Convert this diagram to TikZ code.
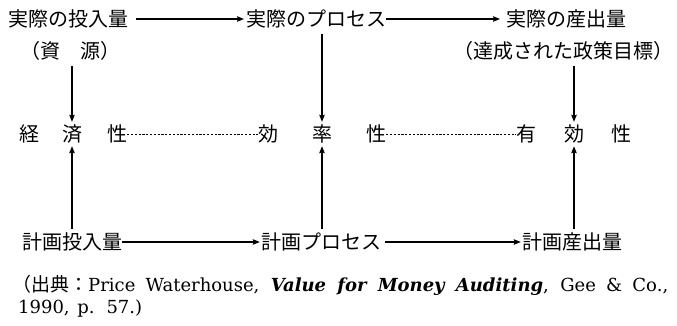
\documentclass[tikz,border=0pt]{standalone}
\usepackage{fontspec}
\setmainfont{DejaVu Serif}
\newfontfamily\jp{Noto Sans CJK JP}
\usetikzlibrary{arrows.meta}
\begin{document}
\begin{tikzpicture}[x=1pt,y=-1pt,
  jt/.style={font=\jp\fontsize{20}{20}\selectfont, inner sep=0pt, text height=16.6pt, text depth=1.4pt},
  arr/.style={line width=1.2pt, -{Stealth[length=7pt,width=5.5pt,inset=1pt]}},
  dsh/.style={line width=0.7pt, dash pattern=on 2.2pt off 1.6pt},
  captxt/.style={font=\fontsize{18}{18}\selectfont, inner sep=0pt, anchor=west}]
\useasboundingbox (0,0) rectangle (677,325);
% row 1
\node[jt, anchor=west] (a1) at (8,19) {実際の投入量};
\node[jt, anchor=west] (a2) at (246,19) {実際のプロセス};
\node[jt, anchor=west] (a3) at (506,19) {実際の産出量};
\node[jt] (p1) at (70,51) {（資\hspace{1em}源）};
\node[jt] (p3) at (563,51) {（達成された政策目標）};
% row 2
\node[jt] (e1) at (29,134) {経};
\node[jt] (e2) at (72,134) {済};
\node[jt] (e3) at (117,134) {性};
\node[jt] (f1) at (268,134) {効};
\node[jt] (f2) at (322,134) {率};
\node[jt] (f3) at (376,134) {性};
\node[jt] (g1) at (526,134) {有};
\node[jt] (g2) at (574,134) {効};
\node[jt] (g3) at (621,134) {性};
% row 3
\node[jt] (b1) at (72,242) {計画投入量};
\node[jt] (b2) at (321,242) {計画プロセス};
\node[jt] (b3) at (572,242) {計画産出量};
% caption
\node[captxt] (c1) at (12,285) {{\jp\fontsize{19}{19}\selectfont （出典：}\makebox[580pt][s]{Price Waterhouse, \textit{\textbf{Value for Money Auditing}}, Gee \& Co.,}};
\node[captxt] (c2) at (18,309) {\makebox[124pt][s]{1990, p. 57.)}};
% horizontal arrows
\draw[arr, shorten <=8pt, shorten >=2pt] (a1.east) -- (a2.west);
\draw[arr, shorten >=6pt] (a2.east) -- (a3.west);
\draw[arr, shorten >=1pt] (b1.east) -- (b2.west);
\draw[arr, shorten <=4pt, shorten >=1pt] (b2.east) -- (b3.west);
% dashed
\draw[dsh] (e3.east) -- (f1.west);
\draw[dsh] (f3.east) -- (g1.west);
% vertical arrows
\draw[arr, shorten <=6pt, shorten >=3pt] (e2 |- p1.south) -- (e2.north);
\draw[arr, shorten <=6pt, shorten >=3pt] (f2 |- a2.south) -- (f2.north);
\draw[arr, shorten <=6pt, shorten >=3pt] (g2 |- p3.south) -- (g2.north);
\draw[arr, shorten <=4pt, shorten >=3pt] (e2 |- b1.north) -- (e2.south);
\draw[arr, shorten <=4pt, shorten >=3pt] (f2 |- b2.north) -- (f2.south);
\draw[arr, shorten <=4pt, shorten >=3pt] (g2 |- b3.north) -- (g2.south);
\end{tikzpicture}
\end{document}
